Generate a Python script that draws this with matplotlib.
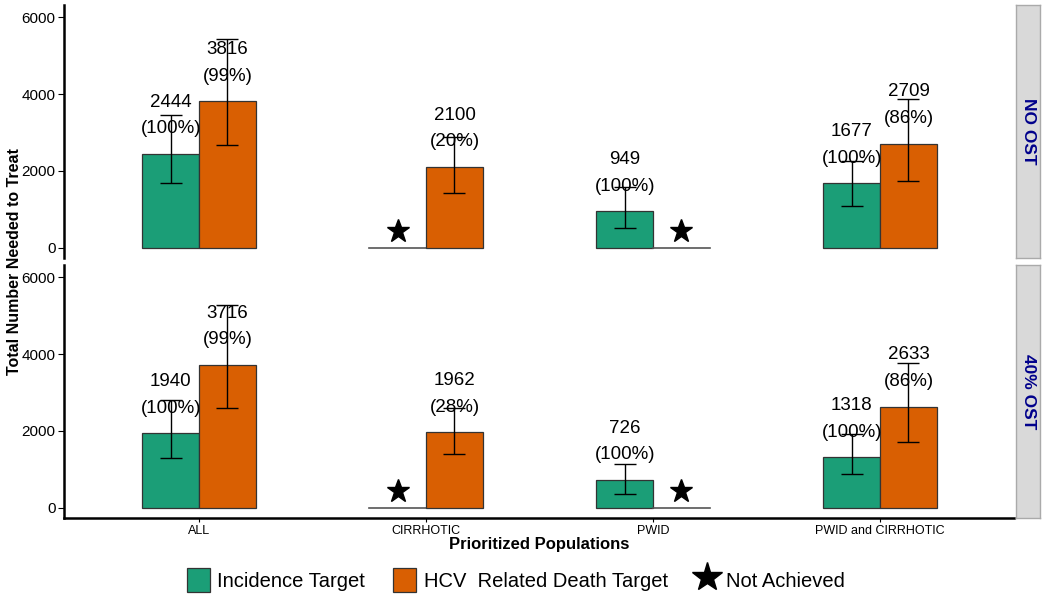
import matplotlib
matplotlib.use("Agg")
import matplotlib.pyplot as plt
from matplotlib.patches import Patch
from matplotlib.lines import Line2D
import numpy as np

plt.rcParams['font.family'] = ['Liberation Sans', 'DejaVu Sans']

# data
categories = ['ALL', 'CIRRHOTIC', 'PWID', 'PWID and CIRRHOTIC']
scenarios = ['NO OST', '40% OST']

incidence = {'NO OST': [2444, 0, 949, 1677], '40% OST': [1940, 0, 726, 1318]}
incidence_pct = {'NO OST': ['100%', None, '100%', '100%'],
                 '40% OST': ['100%', None, '100%', '100%']}
incidence_lo = {'NO OST': [1690, 0, 520, 1090], '40% OST': [1300, 0, 365, 885]}
incidence_hi = {'NO OST': [3455, 0, 1585, 2260], '40% OST': [2805, 0, 1145, 1920]}

death = {'NO OST': [3816, 2100, 0, 2709], '40% OST': [3716, 1962, 0, 2633]}
death_pct = {'NO OST': ['99%', '20%', None, '86%'],
             '40% OST': ['99%', '28%', None, '86%']}
death_lo = {'NO OST': [2675, 1430, 0, 1740], '40% OST': [2600, 1405, 0, 1715]}
death_hi = {'NO OST': [5430, 2885, 0, 3870], '40% OST': [5275, 2600, 0, 3765]}

GREEN = '#1B9E77'
ORANGE = '#D95F02'
W = 0.25

fig = plt.figure(figsize=(10.5, 6.01), dpi=100)

panel_boxes = [(64, 5, 1014, 258), (64, 265, 1014, 518)]
strip_x = (1016, 1040)
x = np.arange(1, len(categories) + 1)

def frac(x0, y0, x1, y1):
    return [x0 / 1050, 1 - y1 / 601, (x1 - x0) / 1050, (y1 - y0) / 601]

for i, sc in enumerate(scenarios):
    bx = panel_boxes[i]
    ax = fig.add_axes(frac(*bx))
    series = [
        (x - W / 2, incidence[sc], incidence_pct[sc], incidence_lo[sc], incidence_hi[sc], GREEN),
        (x + W / 2, death[sc], death_pct[sc], death_lo[sc], death_hi[sc], ORANGE),
    ]
    for xs, vals, pcts, lo, hi, col in series:
        for xi, v, p, l, h in zip(xs, vals, pcts, lo, hi):
            if v == 0:
                # target not achieved: empty bar + star
                ax.plot([xi - W / 2, xi + W / 2], [0, 0], color='#555555', lw=1.2, zorder=2)
                ax.plot(xi, 440, marker='*', color='black', markersize=17, zorder=4,
                        linestyle='none')
                continue
            ax.bar(xi, v, width=W, color=col, edgecolor='#333333', linewidth=0.9, zorder=2)
            ax.errorbar(xi, v, yerr=[[v - l], [h - v]], fmt='none', ecolor='black',
                        elinewidth=1.0, capsize=8, capthick=1.0, zorder=5)
            ax.text(xi, v + 1000, f"{v}\n({p})", ha='center', va='center',
                    fontsize=13.5, linespacing=1.75, zorder=4)

    ax.set_xlim(0.405, 4.59)
    ax.set_ylim(-265, 6315)
    ax.set_yticks([0, 2000, 4000, 6000])
    ax.tick_params(axis='y', labelsize=11, length=4, width=0.8, pad=2)
    for s in ['top', 'right']:
        ax.spines[s].set_visible(False)
    ax.spines['left'].set_linewidth(1.8)
    if i == 0:
        ax.spines['bottom'].set_visible(False)
        ax.set_xticks([])
    else:
        ax.spines['bottom'].set_linewidth(1.8)
        ax.set_xticks(x)
        ax.set_xticklabels(categories, fontsize=9)
        ax.tick_params(axis='x', length=3, width=0.8, pad=2)
        ax.set_xlabel('Prioritized Populations', fontsize=12, fontweight='bold', labelpad=0)

    # facet strip
    sax = fig.add_axes(frac(strip_x[0], bx[1], strip_x[1], bx[3]))
    sax.set_facecolor('#D9D9D9')
    sax.set_xticks([])
    sax.set_yticks([])
    for s in sax.spines.values():
        s.set_color('#AAAAAA')
        s.set_linewidth(1)
    sax.text(0.5, 0.5, sc, rotation=-90, ha='center', va='center', fontsize=12.5,
             fontweight='bold', color='#00008B', transform=sax.transAxes)

fig.text(15 / 1050, 1 - 262 / 601, 'Total Number Needed to Treat', rotation=90,
         ha='center', va='center', fontsize=11.5, fontweight='bold')

handles = [
    Patch(facecolor=GREEN, edgecolor='#333333', linewidth=0.9),
    Patch(facecolor=ORANGE, edgecolor='#333333', linewidth=0.9),
    Line2D([], [], marker='*', color='black', linestyle='none', markersize=22),
]
labels = ['Incidence Target', 'HCV  Related Death Target', 'Not Achieved']
fig.legend(handles, labels, loc='center', bbox_to_anchor=(516 / 1050, 1 - 580 / 601),
           ncol=3, frameon=False, fontsize=14.5, handlelength=1.15, handleheight=1.5,
           handletextpad=0.35, columnspacing=1.4)

fig.savefig('out.png', dpi=100)
